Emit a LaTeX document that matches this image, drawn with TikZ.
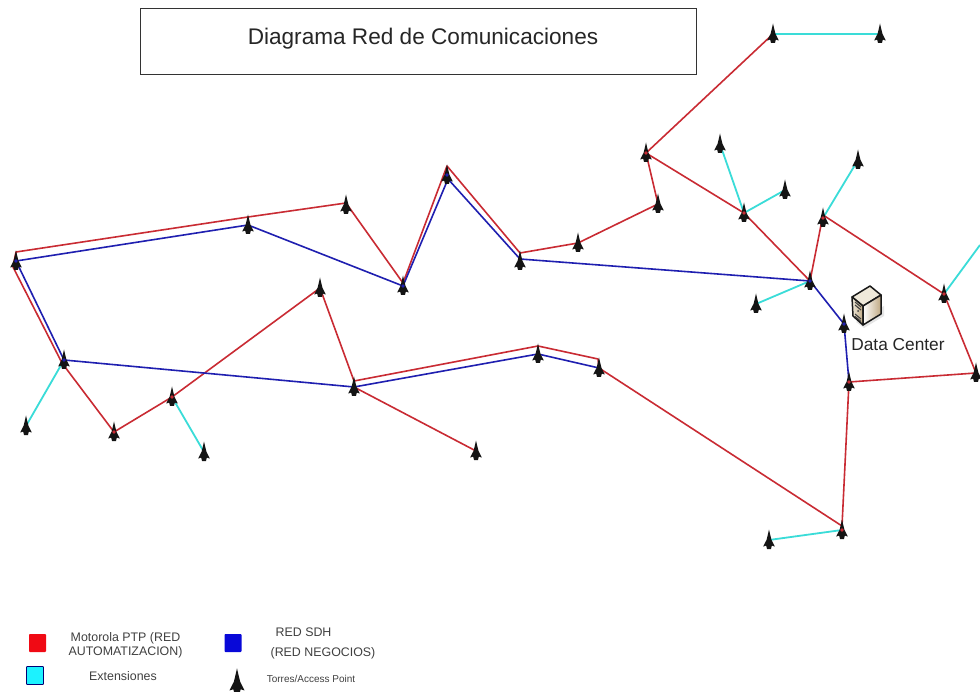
\documentclass[tikz,border=0pt]{standalone}
\usepackage{fontspec}
\setmainfont{Liberation Sans}
\usetikzlibrary{calc}
\definecolor{redlink}{HTML}{C92B33}
\definecolor{bluelink}{HTML}{1F1FB0}
\definecolor{cyanlink}{HTML}{3ADCD8}
\definecolor{swred}{HTML}{F00A14}
\definecolor{swblue}{HTML}{0808D8}
\definecolor{swcyan}{HTML}{1CF2FF}
\definecolor{boxtan}{HTML}{BFA882}
\definecolor{boxpale}{HTML}{EFE9DA}
\tikzset{
  redline/.style={draw=redlink,line width=1.6pt,line join=round},
  blueline/.style={draw=bluelink,line width=1.6pt,line join=round},
  cyanline/.style={draw=cyanlink,line width=1.8pt},
  titlebox/.style={draw=black!80,line width=0.8pt,minimum width=556pt,minimum height=66pt,inner sep=0pt},
  swatch/.style={minimum width=17pt,minimum height=18pt,inner sep=0pt,rounded corners=0.8pt},
  legendtext/.style={align=center,inner sep=0pt,text=black!75,font=\fontsize{12.4}{14}\selectfont},
  towerbody/.style={fill=black!92,draw=none},
  dotred/.style={fill=redlink},
  dotblue/.style={fill=bluelink}
}
\newcommand{\towershape}{(0,-10.5) -- (1.5,-4) -- (2.5,0) -- (5.8,6.5) -- (2.8,5.6) -- (2,9) -- (-2,9) -- (-2.8,5.6) -- (-5.8,6.5) -- (-2.5,0) -- (-1.5,-4) -- cycle}
\begin{document}
\begin{tikzpicture}[x=1pt,y=-1pt]
\useasboundingbox (0,0) rectangle (980,692);
\fill[white] (0,0) rectangle (980,692);
\node[titlebox] (title) at (418,41) {};
\node[inner sep=0pt,font=\fontsize{22.6}{27}\selectfont,text=black!85] (titletext) at (423,39) {Diagrama Red de Comunicaciones};
% tower anchors
\foreach \n/\x/\y in {t1/16/261,t2/248/225,t3/346/205,t4/403/286,t5/447/175,t6/520/261,t7/578/243,t8/658/204,t9/646/153,t10/773/34,t11/880/34,t12/720/144,t13/744/213,t14/785/190,t15/858/160,t16/823/218,t17/810/281,t18/756/304,t19/844/324,t20/849/382,t21/944/294,t22/976/373,t23/842/530,t24/769/540,t25/599/368,t26/538/354,t27/354/387,t28/476/451,t29/320/288,t30/172/397,t31/204/452,t32/114/432,t33/64/360,t34/26/426}{\coordinate (\n) at (\x,\y);}
\coordinate (edge) at (980,245);
% cyan
\draw[cyanline] (t10)--(t11);
\draw[cyanline] (t12)--(t13);
\draw[cyanline] (t13)--(t14);
\draw[cyanline] (t16)--(t15);
\draw[cyanline] (t17)--(t18);
\draw[cyanline] (t21)--(edge);
\draw[cyanline] (t23)--(t24);
\draw[cyanline] (t30)--(t31);
\draw[cyanline] (t33)--(t34);
% red
\draw[redline] ([shift={(-3,6)}]t1) -- ([shift={(-2,3)}]t33) -- (t32) -- (t30) -- (t29) -- ([shift={(0,-6)}]t27) -- ([shift={(0,-8)}]t26) -- ([shift={(-1,-9)}]t25) -- (t25) -- ([shift={(0,-4)}]t23) -- (t20) -- (t22) -- (t21) -- ([shift={(0,-3)}]t16) -- (t17) -- (t13) -- (t9) -- (t8) -- (t7) -- ([shift={(0,-8)}]t6) -- ([shift={(0,-9)}]t5) -- ([shift={(0,-3)}]t4) -- ([shift={(0,-2)}]t3) -- ([shift={(0,-8)}]t2) -- ([shift={(0,-9)}]t1) -- cycle;
\draw[redline] (t9) -- (t10);
\draw[redline] (t27) -- (t28);
% blue
\draw[blueline] (t1) -- (t2) -- (t4) -- ([shift={(1,4)}]t5) -- ([shift={(0,-2)}]t6) -- (t17) -- (t19) -- (t20);
\draw[blueline] (t1) -- (t33) -- (t27) -- (t26) -- (t25);
% towers
\foreach \n/\x/\y in {t1/16/261,t2/248/225,t3/346/205,t4/403/286,t5/447/175,t6/520/261,t7/578/243,t8/658/204,t9/646/153,t10/773/34,t11/880/34,t12/720/144,t13/744/213,t14/785/190,t15/858/160,t16/823/218,t17/810/281,t18/756/304,t19/844/324,t20/849/382,t21/944/294,t22/976/373,t23/842/530,t24/769/540,t25/599/368,t26/538/354,t27/354/387,t28/476/451,t29/320/288,t30/172/397,t31/204/452,t32/114/432,t33/64/360,t34/26/426}{\fill[towerbody,shift={(\x,\y)}] \towershape;}
% tinted tower centres
\foreach \n in {t9,t13,t20,t32,t30,t16,t21,t23}{\fill[dotred] (\n) circle (1.9);}
\foreach \n in {t17,t19,t5,t1,t4,t33}{\fill[dotblue] (\n) circle (1.9);}
% server
\fill[black!10] (856,322) -- (864,328) -- (884,316) -- (884,306) -- cycle;
\fill[boxpale,draw=black!90,line width=1.5pt,line join=round] (870,286) -- (852,297) -- (863,306) -- (881,295) -- cycle;
\path[left color=boxpale,right color=boxtan] (852,297) -- (863,306) -- (863,325) -- (853,316) -- cycle;
\draw[black!90,line width=1.5pt,line join=round] (852,297) -- (863,306) -- (863,325) -- (853,316) -- cycle;
\path[left color=white,right color=boxtan] (863,306) -- (881,295) -- (881,314) -- (863,325) -- cycle;
\draw[black!90,line width=1.5pt,line join=round] (863,306) -- (881,295) -- (881,314) -- (863,325) -- cycle;
\draw[black!75,line width=1.1pt] (855,302) -- (861,307) (855,305) -- (861,310) (855,314) -- (861,319) (855,316.5) -- (861,321.5);
\fill[black!75] (858,311) circle (1);
\node[inner sep=0pt,text=black!85,font=\fontsize{17.3}{20}\selectfont] (dc) at (898,344.5) {Data Center};
% legend
\node[swatch,fill=swred] (lr) at (37.5,643) {};
\node[swatch,fill=swblue] (lb) at (233,643) {};
\node[swatch,fill=swcyan,draw=black!55!blue,line width=0.8pt] (lc) at (35,675.5) {};
\node[legendtext] (ltr) at (125.5,645) {Motorola PTP (RED\\AUTOMATIZACION)};
\node[legendtext,align=left,font=\fontsize{12.4}{18}\selectfont] (ltb) at (323,643.5) {\hspace*{5pt}RED SDH\\[1.5pt](RED NEGOCIOS)};
\node[legendtext] (ltc) at (123,676.5) {Extensiones};
\node[legendtext,font=\fontsize{10}{12}\selectfont] (ltt) at (311,679) {Torres/Access Point};
\fill[towerbody,shift={(237,682)},scale=1.3] \towershape;
\end{tikzpicture}
\end{document}
